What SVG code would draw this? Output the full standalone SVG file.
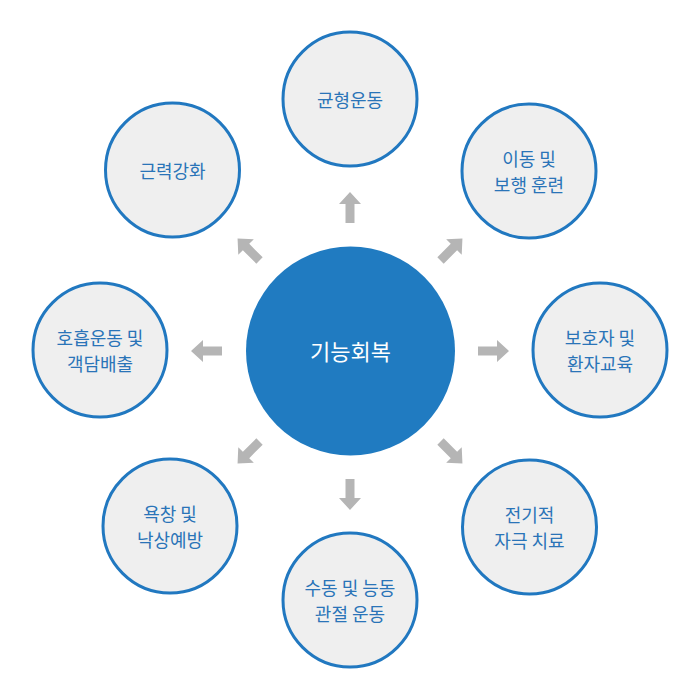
<svg xmlns="http://www.w3.org/2000/svg" xmlns:xlink="http://www.w3.org/1999/xlink" width="700" height="700" viewBox="0 0 700 700">
<style>
.node circle{fill:#efefef;stroke:#2178c0;stroke-width:3}
.node text{font-family:"Noto Sans CJK KR","Noto Sans",sans-serif;font-size:18px;fill:#2a74b8;text-anchor:middle;dominant-baseline:central}
.center circle{fill:#207bc1}
.center text{font-family:"Noto Sans CJK KR","Noto Sans",sans-serif;font-size:22px;fill:#ffffff;text-anchor:middle;dominant-baseline:central}
.arrow{fill:#b5b5b5}
</style>
<defs>
<path id="arr" class="arrow" d="M128,-4.5 H147 V-11 L159,0 L147,11 V4.5 H128 Z"/>
</defs>
<rect width="700" height="700" fill="#ffffff"/>
<g id="connectors" transform="translate(350,351)">
<use xlink:href="#arr" transform="rotate(-90)"/>
<use xlink:href="#arr" transform="rotate(-45)"/>
<use xlink:href="#arr" transform="rotate(0)"/>
<use xlink:href="#arr" transform="rotate(45)"/>
<use xlink:href="#arr" transform="rotate(90)"/>
<use xlink:href="#arr" transform="rotate(135)"/>
<use xlink:href="#arr" transform="rotate(180)"/>
<use xlink:href="#arr" transform="rotate(-135)"/>
</g>
<g id="center" class="center">
<circle cx="350.5" cy="351" r="104.5"/>
<text x="350.5" y="350">기능회복</text>
</g>
<g id="n-top" class="node">
<circle cx="350" cy="99" r="67"/>
<text x="350" y="99">균형운동</text>
</g>
<g id="n-topright" class="node">
<circle cx="529" cy="171" r="67"/>
<text x="529" y="158">이동 및</text>
<text x="529" y="184">보행 훈련</text>
</g>
<g id="n-right" class="node">
<circle cx="600" cy="350" r="67"/>
<text x="600" y="337">보호자 및</text>
<text x="600" y="363">환자교육</text>
</g>
<g id="n-bottomright" class="node">
<circle cx="529.5" cy="527" r="67"/>
<text x="529.5" y="514">전기적</text>
<text x="529.5" y="540">자극 치료</text>
</g>
<g id="n-bottom" class="node">
<circle cx="350" cy="600" r="67"/>
<text x="350" y="587">수동 및 능동</text>
<text x="350" y="613">관절 운동</text>
</g>
<g id="n-bottomleft" class="node">
<circle cx="170" cy="526" r="67"/>
<text x="170" y="513">욕창 및</text>
<text x="170" y="539">낙상예방</text>
</g>
<g id="n-left" class="node">
<circle cx="100" cy="350" r="67"/>
<text x="100" y="337">호흡운동 및</text>
<text x="100" y="363">객담배출</text>
</g>
<g id="n-topleft" class="node">
<circle cx="172.5" cy="170" r="67"/>
<text x="172.5" y="170">근력강화</text>
</g>
</svg>
